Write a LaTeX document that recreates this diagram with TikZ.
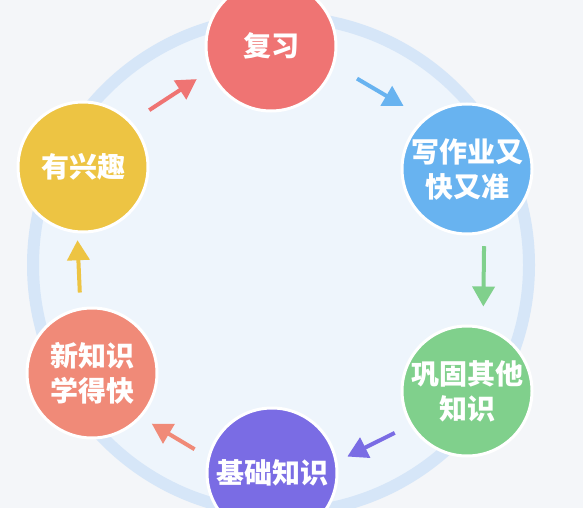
\documentclass[tikz,border=0pt]{standalone}
\usepackage{xcolor}
\usepackage{fontspec}
\usepackage{tikz}
\usetikzlibrary{arrows.meta}
\newfontfamily\cjk{Noto Sans CJK SC}[BoldFont={Noto Sans CJK SC Black}]
\definecolor{pagebg}{HTML}{F4F6F9}
\definecolor{innerbg}{HTML}{EEF5FC}
\definecolor{ringblue}{HTML}{D6E6F8}
\definecolor{cycred}{HTML}{EF7473}
\definecolor{cycblue}{HTML}{68B3F0}
\definecolor{cycgreen}{HTML}{80D08C}
\definecolor{cycpurple}{HTML}{7A6CE4}
\definecolor{cycsalmon}{HTML}{F08A78}
\definecolor{cycyellow}{HTML}{EDC443}

\begin{document}
\begin{tikzpicture}[
  x=1pt, y=-1pt,
  stage/.style={circle, draw=white, line width=3pt, minimum size=130pt, inner sep=0pt, align=center, text=white, font=\cjk\bfseries\fontsize{28}{35}\selectfont},
  flow/.style={-{Triangle[length=20pt, width=22pt]}, line width=4pt, color=#1}
]
\useasboundingbox (0,0) rectangle (583,508);
\clip (0,0) rectangle (583,508);
\fill[pagebg] (0,0) rectangle (583,508);
\draw[ringblue, line width=12pt, fill=innerbg] (281,265) circle[radius=248pt];

\node[stage, fill=cycred] (review) at (271,46) {复习};
\node[stage, fill=cycblue] (homework) at (467,169) {写作业又\\快又准};
\node[stage, fill=cycgreen] (consolidate) at (467,391) {巩固其他\\知识};
\node[stage, fill=cycpurple] (basics) at (272,473) {基础知识};
\node[stage, fill=cycsalmon] (newknow) at (92,373) {新知识\\学得快};
\node[stage, fill=cycyellow] (interest) at (83,167) {有兴趣};

\draw[flow=cycred, shorten <=21pt, shorten >=15pt] (interest.43) -- (review.202);
\draw[flow=cycblue, shorten <=26pt, shorten >=24pt] (review.-17) -- (homework.130);
\draw[flow=cycgreen, shorten <=13pt, shorten >=20pt] (homework.-75) -- (consolidate.76);
\draw[flow=cycpurple, shorten <=17pt, shorten >=11pt] (consolidate.211) -- (basics.10);
\draw[flow=cycsalmon, shorten <=15pt, shorten >=12pt] (basics.166) -- (newknow.-42);
\draw[flow=cycyellow, shorten <=15pt, shorten >=7pt] (newknow.100) -- (interest.265);
\end{tikzpicture}
\end{document}
